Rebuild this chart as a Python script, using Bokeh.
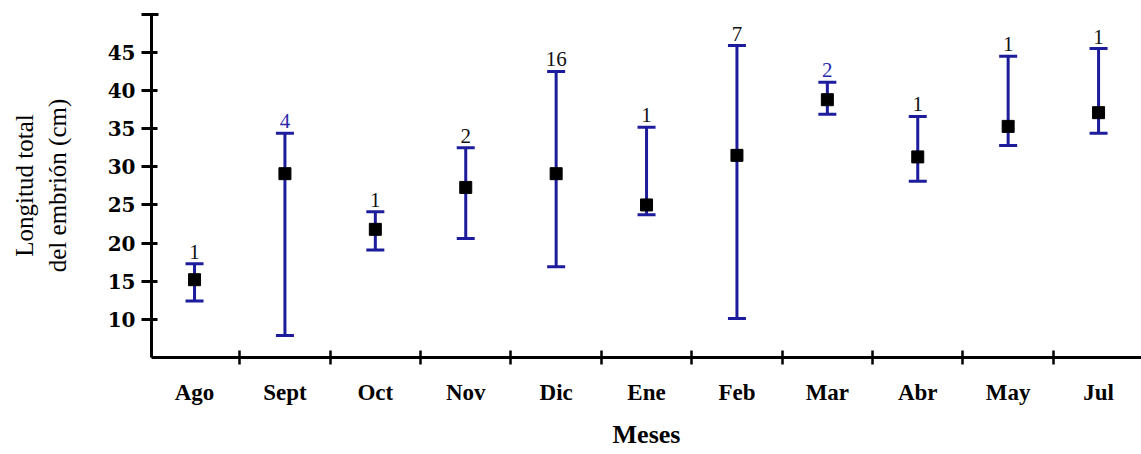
from bokeh.plotting import figure
from bokeh.models import ColumnDataSource, Whisker, TeeHead, FixedTicker, Range1d
from bokeh.core.properties import value
from bokeh.embed import file_html
from bokeh.resources import INLINE

months = ["Ago", "Sept", "Oct", "Nov", "Dic", "Ene", "Feb", "Mar", "Abr", "May", "Jul"]
mean = [15.2, 29.1, 21.8, 27.3, 29.1, 25.0, 31.5, 38.8, 31.3, 35.3, 37.1]
upper = [17.3, 34.4, 24.1, 32.5, 42.5, 35.2, 45.9, 41.1, 36.6, 44.5, 45.5]
lower = [12.4, 7.9, 19.1, 20.6, 16.9, 23.7, 10.1, 36.9, 28.1, 32.8, 34.4]
n_labels = ["1", "4", "1", "2", "16", "1", "7", "2", "1", "1", "1"]
n_colors = ["#111111", "#2a2aa8", "#111111", "#111111", "#111111", "#111111",
            "#111111", "#2a2aa8", "#111111", "#111111", "#111111"]
y_ticks = [10, 15, 20, 25, 30, 35, 40, 45]

BLUE = "#1c1c9c"
xs = list(range(len(months)))

src = ColumnDataSource(dict(x=xs, mean=mean, upper=upper, lower=lower,
                            n=n_labels, ncol=n_colors))

p = figure(frame_width=990, frame_height=344, output_backend="svg",
           toolbar_location=None, x_range=Range1d(-0.476, 10.475),
           y_range=Range1d(5, 50.1), min_border_left=151, min_border_top=13,
           min_border_right=0, min_border_bottom=0,
           background_fill_color="white", border_fill_color="white")
p.outline_line_color = None
p.grid.visible = False

w = Whisker(source=src, base="x", upper="upper", lower="lower",
            line_color=BLUE, line_width=3,
            upper_head=TeeHead(size=18, line_color=BLUE, line_width=3),
            lower_head=TeeHead(size=18, line_color=BLUE, line_width=3))
p.add_layout(w)

p.scatter("x", "mean", source=src, marker="square", size=12,
          fill_color="black", line_color="black")

p.text("x", "upper", text="n", source=src, text_color="ncol",
       text_align="center", text_baseline="bottom", y_offset=-5,
       text_font=value("Liberation Serif"), text_font_size="21px")

# x axis
xa = p.xaxis[0]
xa.ticker = FixedTicker(ticks=xs, minor_ticks=[i + 0.5 for i in range(10)])
xa.major_label_overrides = {i: m for i, m in enumerate(months)}
xa.major_tick_in = 0
xa.major_tick_out = 0
xa.minor_tick_in = 7
xa.minor_tick_out = 7
xa.minor_tick_line_width = 2.5
xa.minor_tick_line_color = "black"
xa.axis_line_width = 3
xa.axis_line_color = "black"
xa.major_label_standoff = 15
xa.major_label_text_font = "Liberation Serif"
xa.major_label_text_font_style = "bold"
xa.major_label_text_font_size = "23px"
xa.major_label_text_color = "black"
xa.axis_label = "Meses"
xa.axis_label_text_font = "Liberation Serif"
xa.axis_label_text_font_style = "bold"
xa.axis_label_text_font_size = "26px"
xa.axis_label_text_color = "black"
xa.axis_label_standoff = 12

# y axis
ya = p.yaxis[0]
ya.ticker = FixedTicker(ticks=y_ticks, minor_ticks=[50])
ya.major_tick_in = 6
ya.major_tick_out = 10
ya.major_tick_line_width = 3
ya.major_tick_line_color = "black"
ya.minor_tick_in = 7
ya.minor_tick_out = 10
ya.minor_tick_line_width = 3
ya.minor_tick_line_color = "black"
ya.axis_line_width = 3
ya.axis_line_color = "black"
ya.major_label_standoff = 6
ya.major_label_text_font = "DejaVu Serif"
ya.major_label_text_font_style = "bold"
ya.major_label_text_font_size = "20px"
ya.major_label_text_color = "black"
ya.axis_label = "Longitud total\ndel embrión (cm)"
ya.axis_label_text_font = "Liberation Serif"
ya.axis_label_text_font_style = "normal"
ya.axis_label_text_font_size = "25px"
ya.axis_label_text_color = "black"
ya.axis_label_standoff = 34

open("out.html", "w").write(file_html(p, INLINE))
